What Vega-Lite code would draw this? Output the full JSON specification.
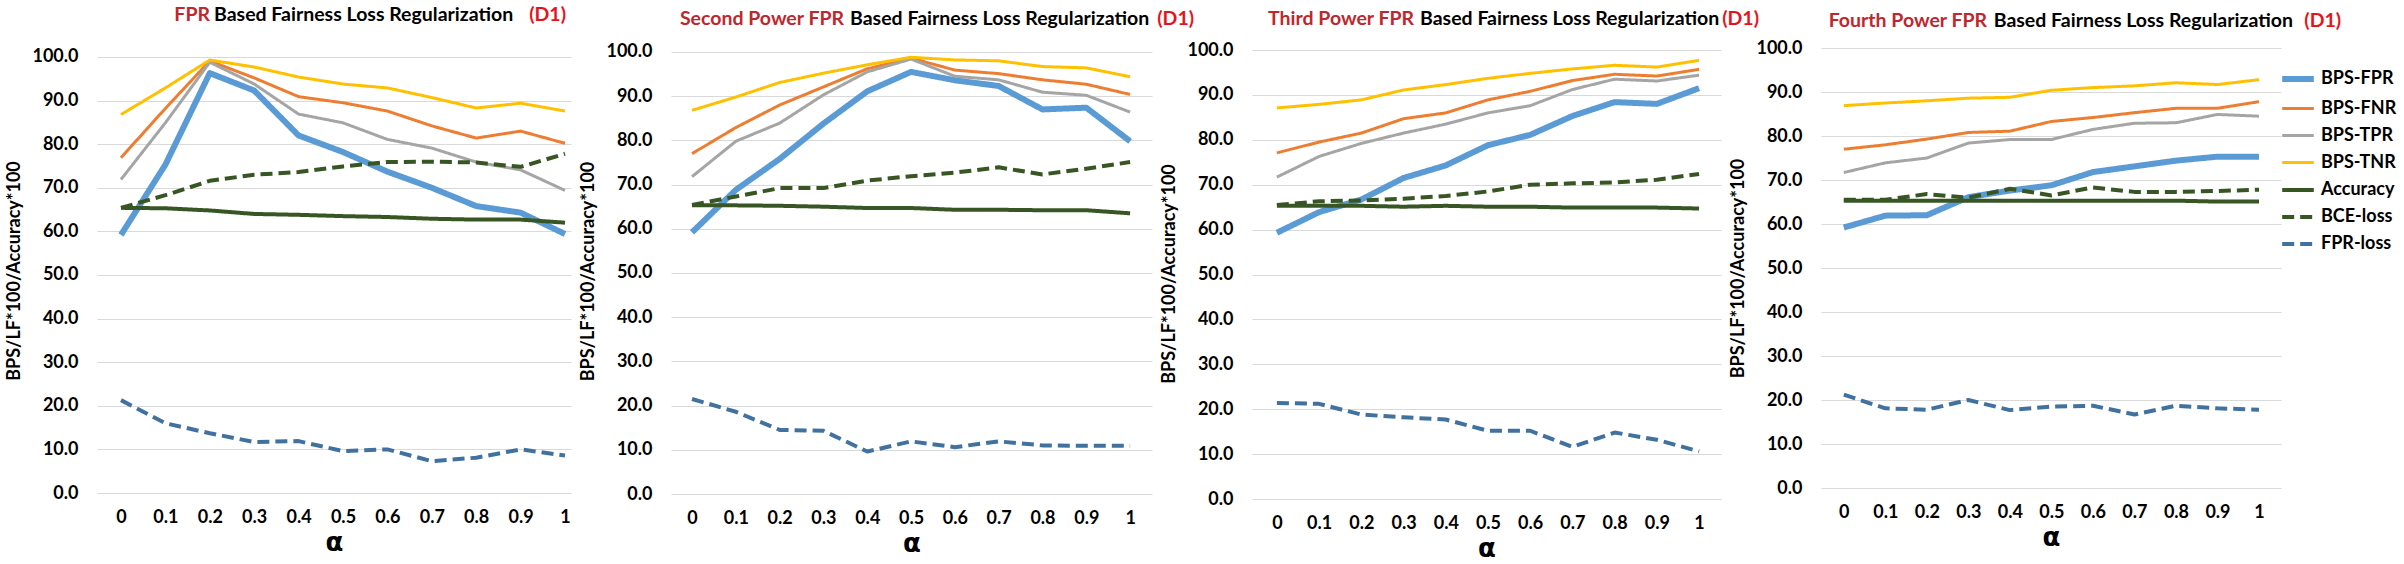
{
"$schema": "https://vega.github.io/schema/vega-lite/v6.json",
"background": "white",
"padding": {"left": 5, "top": 5, "right": 5, "bottom": 0},
"bounds": "flush",
"spacing": 100,
"datasets": {"d": [
{"p":1,"s":"BPS-FPR","a":0,"v":59.2},{"p":1,"s":"BPS-FPR","a":0.1,"v":75.3},{"p":1,"s":"BPS-FPR","a":0.2,"v":96.3},{"p":1,"s":"BPS-FPR","a":0.3,"v":92.3},{"p":1,"s":"BPS-FPR","a":0.4,"v":82.0},{"p":1,"s":"BPS-FPR","a":0.5,"v":78.2},{"p":1,"s":"BPS-FPR","a":0.6,"v":73.7},{"p":1,"s":"BPS-FPR","a":0.7,"v":70.0},{"p":1,"s":"BPS-FPR","a":0.8,"v":65.8},{"p":1,"s":"BPS-FPR","a":0.9,"v":64.3},{"p":1,"s":"BPS-FPR","a":1,"v":59.4},
{"p":1,"s":"BPS-FNR","a":0,"v":76.9},{"p":1,"s":"BPS-FNR","a":0.1,"v":88.2},{"p":1,"s":"BPS-FNR","a":0.2,"v":99.1},{"p":1,"s":"BPS-FNR","a":0.3,"v":95.2},{"p":1,"s":"BPS-FNR","a":0.4,"v":90.9},{"p":1,"s":"BPS-FNR","a":0.5,"v":89.5},{"p":1,"s":"BPS-FNR","a":0.6,"v":87.6},{"p":1,"s":"BPS-FNR","a":0.7,"v":84.2},{"p":1,"s":"BPS-FNR","a":0.8,"v":81.4},{"p":1,"s":"BPS-FNR","a":0.9,"v":83.0},{"p":1,"s":"BPS-FNR","a":1,"v":80.2},
{"p":1,"s":"BPS-TPR","a":0,"v":71.9},{"p":1,"s":"BPS-TPR","a":0.1,"v":84.9},{"p":1,"s":"BPS-TPR","a":0.2,"v":98.8},{"p":1,"s":"BPS-TPR","a":0.3,"v":93.8},{"p":1,"s":"BPS-TPR","a":0.4,"v":86.9},{"p":1,"s":"BPS-TPR","a":0.5,"v":84.9},{"p":1,"s":"BPS-TPR","a":0.6,"v":81.1},{"p":1,"s":"BPS-TPR","a":0.7,"v":79.1},{"p":1,"s":"BPS-TPR","a":0.8,"v":75.9},{"p":1,"s":"BPS-TPR","a":0.9,"v":74.1},{"p":1,"s":"BPS-TPR","a":1,"v":69.4},
{"p":1,"s":"BPS-TNR","a":0,"v":86.8},{"p":1,"s":"BPS-TNR","a":0.1,"v":92.9},{"p":1,"s":"BPS-TNR","a":0.2,"v":99.3},{"p":1,"s":"BPS-TNR","a":0.3,"v":97.7},{"p":1,"s":"BPS-TNR","a":0.4,"v":95.4},{"p":1,"s":"BPS-TNR","a":0.5,"v":93.8},{"p":1,"s":"BPS-TNR","a":0.6,"v":92.9},{"p":1,"s":"BPS-TNR","a":0.7,"v":90.7},{"p":1,"s":"BPS-TNR","a":0.8,"v":88.3},{"p":1,"s":"BPS-TNR","a":0.9,"v":89.4},{"p":1,"s":"BPS-TNR","a":1,"v":87.6},
{"p":1,"s":"Accuracy","a":0,"v":65.4},{"p":1,"s":"Accuracy","a":0.1,"v":65.3},{"p":1,"s":"Accuracy","a":0.2,"v":64.8},{"p":1,"s":"Accuracy","a":0.3,"v":64.0},{"p":1,"s":"Accuracy","a":0.4,"v":63.8},{"p":1,"s":"Accuracy","a":0.5,"v":63.5},{"p":1,"s":"Accuracy","a":0.6,"v":63.3},{"p":1,"s":"Accuracy","a":0.7,"v":62.9},{"p":1,"s":"Accuracy","a":0.8,"v":62.7},{"p":1,"s":"Accuracy","a":0.9,"v":62.7},{"p":1,"s":"Accuracy","a":1,"v":62.0},
{"p":1,"s":"BCE-loss","a":0,"v":65.4},{"p":1,"s":"BCE-loss","a":0.1,"v":68.3},{"p":1,"s":"BCE-loss","a":0.2,"v":71.6},{"p":1,"s":"BCE-loss","a":0.3,"v":73.0},{"p":1,"s":"BCE-loss","a":0.4,"v":73.6},{"p":1,"s":"BCE-loss","a":0.5,"v":74.9},{"p":1,"s":"BCE-loss","a":0.6,"v":75.9},{"p":1,"s":"BCE-loss","a":0.7,"v":76.0},{"p":1,"s":"BCE-loss","a":0.8,"v":75.8},{"p":1,"s":"BCE-loss","a":0.9,"v":74.8},{"p":1,"s":"BCE-loss","a":1,"v":77.8},
{"p":1,"s":"FPR-loss","a":0,"v":21.3},{"p":1,"s":"FPR-loss","a":0.1,"v":16.0},{"p":1,"s":"FPR-loss","a":0.2,"v":13.7},{"p":1,"s":"FPR-loss","a":0.3,"v":11.7},{"p":1,"s":"FPR-loss","a":0.4,"v":11.9},{"p":1,"s":"FPR-loss","a":0.5,"v":9.6},{"p":1,"s":"FPR-loss","a":0.6,"v":10.0},{"p":1,"s":"FPR-loss","a":0.7,"v":7.3},{"p":1,"s":"FPR-loss","a":0.8,"v":8.1},{"p":1,"s":"FPR-loss","a":0.9,"v":10.0},{"p":1,"s":"FPR-loss","a":1,"v":8.6},

{"p":2,"s":"BPS-FPR","a":0,"v":59.2},{"p":2,"s":"BPS-FPR","a":0.1,"v":68.8},{"p":2,"s":"BPS-FPR","a":0.2,"v":75.8},{"p":2,"s":"BPS-FPR","a":0.3,"v":83.8},{"p":2,"s":"BPS-FPR","a":0.4,"v":91.1},{"p":2,"s":"BPS-FPR","a":0.5,"v":95.5},{"p":2,"s":"BPS-FPR","a":0.6,"v":93.6},{"p":2,"s":"BPS-FPR","a":0.7,"v":92.3},{"p":2,"s":"BPS-FPR","a":0.8,"v":87.0},{"p":2,"s":"BPS-FPR","a":0.9,"v":87.4},{"p":2,"s":"BPS-FPR","a":1,"v":79.8},
{"p":2,"s":"BPS-FNR","a":0,"v":77.0},{"p":2,"s":"BPS-FNR","a":0.1,"v":82.9},{"p":2,"s":"BPS-FNR","a":0.2,"v":88.0},{"p":2,"s":"BPS-FNR","a":0.3,"v":92.1},{"p":2,"s":"BPS-FNR","a":0.4,"v":96.2},{"p":2,"s":"BPS-FNR","a":0.5,"v":98.6},{"p":2,"s":"BPS-FNR","a":0.6,"v":95.9},{"p":2,"s":"BPS-FNR","a":0.7,"v":95.1},{"p":2,"s":"BPS-FNR","a":0.8,"v":93.7},{"p":2,"s":"BPS-FNR","a":0.9,"v":92.7},{"p":2,"s":"BPS-FNR","a":1,"v":90.4},
{"p":2,"s":"BPS-TPR","a":0,"v":71.8},{"p":2,"s":"BPS-TPR","a":0.1,"v":79.8},{"p":2,"s":"BPS-TPR","a":0.2,"v":83.9},{"p":2,"s":"BPS-TPR","a":0.3,"v":90.3},{"p":2,"s":"BPS-TPR","a":0.4,"v":95.5},{"p":2,"s":"BPS-TPR","a":0.5,"v":98.4},{"p":2,"s":"BPS-TPR","a":0.6,"v":94.5},{"p":2,"s":"BPS-TPR","a":0.7,"v":93.7},{"p":2,"s":"BPS-TPR","a":0.8,"v":90.9},{"p":2,"s":"BPS-TPR","a":0.9,"v":90.2},{"p":2,"s":"BPS-TPR","a":1,"v":86.4},
{"p":2,"s":"BPS-TNR","a":0,"v":86.8},{"p":2,"s":"BPS-TNR","a":0.1,"v":89.8},{"p":2,"s":"BPS-TNR","a":0.2,"v":93.1},{"p":2,"s":"BPS-TNR","a":0.3,"v":95.2},{"p":2,"s":"BPS-TNR","a":0.4,"v":97.1},{"p":2,"s":"BPS-TNR","a":0.5,"v":98.8},{"p":2,"s":"BPS-TNR","a":0.6,"v":98.2},{"p":2,"s":"BPS-TNR","a":0.7,"v":98.0},{"p":2,"s":"BPS-TNR","a":0.8,"v":96.7},{"p":2,"s":"BPS-TNR","a":0.9,"v":96.4},{"p":2,"s":"BPS-TNR","a":1,"v":94.4},
{"p":2,"s":"Accuracy","a":0,"v":65.3},{"p":2,"s":"Accuracy","a":0.1,"v":65.3},{"p":2,"s":"Accuracy","a":0.2,"v":65.2},{"p":2,"s":"Accuracy","a":0.3,"v":65.0},{"p":2,"s":"Accuracy","a":0.4,"v":64.7},{"p":2,"s":"Accuracy","a":0.5,"v":64.7},{"p":2,"s":"Accuracy","a":0.6,"v":64.3},{"p":2,"s":"Accuracy","a":0.7,"v":64.3},{"p":2,"s":"Accuracy","a":0.8,"v":64.2},{"p":2,"s":"Accuracy","a":0.9,"v":64.2},{"p":2,"s":"Accuracy","a":1,"v":63.5},
{"p":2,"s":"BCE-loss","a":0,"v":65.4},{"p":2,"s":"BCE-loss","a":0.1,"v":67.3},{"p":2,"s":"BCE-loss","a":0.2,"v":69.2},{"p":2,"s":"BCE-loss","a":0.3,"v":69.2},{"p":2,"s":"BCE-loss","a":0.4,"v":70.9},{"p":2,"s":"BCE-loss","a":0.5,"v":71.9},{"p":2,"s":"BCE-loss","a":0.6,"v":72.7},{"p":2,"s":"BCE-loss","a":0.7,"v":73.9},{"p":2,"s":"BCE-loss","a":0.8,"v":72.3},{"p":2,"s":"BCE-loss","a":0.9,"v":73.6},{"p":2,"s":"BCE-loss","a":1,"v":75.1},
{"p":2,"s":"FPR-loss","a":0,"v":21.5},{"p":2,"s":"FPR-loss","a":0.1,"v":18.6},{"p":2,"s":"FPR-loss","a":0.2,"v":14.5},{"p":2,"s":"FPR-loss","a":0.3,"v":14.3},{"p":2,"s":"FPR-loss","a":0.4,"v":9.6},{"p":2,"s":"FPR-loss","a":0.5,"v":11.9},{"p":2,"s":"FPR-loss","a":0.6,"v":10.6},{"p":2,"s":"FPR-loss","a":0.7,"v":11.9},{"p":2,"s":"FPR-loss","a":0.8,"v":11.0},{"p":2,"s":"FPR-loss","a":0.9,"v":10.9},{"p":2,"s":"FPR-loss","a":1,"v":10.9},

{"p":3,"s":"BPS-FPR","a":0,"v":59.3},{"p":3,"s":"BPS-FPR","a":0.1,"v":63.9},{"p":3,"s":"BPS-FPR","a":0.2,"v":66.7},{"p":3,"s":"BPS-FPR","a":0.3,"v":71.5},{"p":3,"s":"BPS-FPR","a":0.4,"v":74.3},{"p":3,"s":"BPS-FPR","a":0.5,"v":78.8},{"p":3,"s":"BPS-FPR","a":0.6,"v":81.1},{"p":3,"s":"BPS-FPR","a":0.7,"v":85.3},{"p":3,"s":"BPS-FPR","a":0.8,"v":88.4},{"p":3,"s":"BPS-FPR","a":0.9,"v":88.0},{"p":3,"s":"BPS-FPR","a":1,"v":91.5},
{"p":3,"s":"BPS-FNR","a":0,"v":77.1},{"p":3,"s":"BPS-FNR","a":0.1,"v":79.5},{"p":3,"s":"BPS-FNR","a":0.2,"v":81.5},{"p":3,"s":"BPS-FNR","a":0.3,"v":84.7},{"p":3,"s":"BPS-FNR","a":0.4,"v":86.0},{"p":3,"s":"BPS-FNR","a":0.5,"v":88.9},{"p":3,"s":"BPS-FNR","a":0.6,"v":90.8},{"p":3,"s":"BPS-FNR","a":0.7,"v":93.2},{"p":3,"s":"BPS-FNR","a":0.8,"v":94.6},{"p":3,"s":"BPS-FNR","a":0.9,"v":94.2},{"p":3,"s":"BPS-FNR","a":1,"v":95.7},
{"p":3,"s":"BPS-TPR","a":0,"v":71.7},{"p":3,"s":"BPS-TPR","a":0.1,"v":76.3},{"p":3,"s":"BPS-TPR","a":0.2,"v":79.2},{"p":3,"s":"BPS-TPR","a":0.3,"v":81.5},{"p":3,"s":"BPS-TPR","a":0.4,"v":83.5},{"p":3,"s":"BPS-TPR","a":0.5,"v":86.0},{"p":3,"s":"BPS-TPR","a":0.6,"v":87.6},{"p":3,"s":"BPS-TPR","a":0.7,"v":91.2},{"p":3,"s":"BPS-TPR","a":0.8,"v":93.5},{"p":3,"s":"BPS-TPR","a":0.9,"v":93.1},{"p":3,"s":"BPS-TPR","a":1,"v":94.4},
{"p":3,"s":"BPS-TNR","a":0,"v":87.1},{"p":3,"s":"BPS-TNR","a":0.1,"v":87.9},{"p":3,"s":"BPS-TNR","a":0.2,"v":88.9},{"p":3,"s":"BPS-TNR","a":0.3,"v":91.1},{"p":3,"s":"BPS-TNR","a":0.4,"v":92.3},{"p":3,"s":"BPS-TNR","a":0.5,"v":93.7},{"p":3,"s":"BPS-TNR","a":0.6,"v":94.8},{"p":3,"s":"BPS-TNR","a":0.7,"v":95.8},{"p":3,"s":"BPS-TNR","a":0.8,"v":96.6},{"p":3,"s":"BPS-TNR","a":0.9,"v":96.2},{"p":3,"s":"BPS-TNR","a":1,"v":97.7},
{"p":3,"s":"Accuracy","a":0,"v":65.3},{"p":3,"s":"Accuracy","a":0.1,"v":65.3},{"p":3,"s":"Accuracy","a":0.2,"v":65.3},{"p":3,"s":"Accuracy","a":0.3,"v":65.1},{"p":3,"s":"Accuracy","a":0.4,"v":65.3},{"p":3,"s":"Accuracy","a":0.5,"v":65.1},{"p":3,"s":"Accuracy","a":0.6,"v":65.1},{"p":3,"s":"Accuracy","a":0.7,"v":64.9},{"p":3,"s":"Accuracy","a":0.8,"v":64.9},{"p":3,"s":"Accuracy","a":0.9,"v":64.9},{"p":3,"s":"Accuracy","a":1,"v":64.7},
{"p":3,"s":"BCE-loss","a":0,"v":65.5},{"p":3,"s":"BCE-loss","a":0.1,"v":66.3},{"p":3,"s":"BCE-loss","a":0.2,"v":66.5},{"p":3,"s":"BCE-loss","a":0.3,"v":66.9},{"p":3,"s":"BCE-loss","a":0.4,"v":67.5},{"p":3,"s":"BCE-loss","a":0.5,"v":68.5},{"p":3,"s":"BCE-loss","a":0.6,"v":70.0},{"p":3,"s":"BCE-loss","a":0.7,"v":70.3},{"p":3,"s":"BCE-loss","a":0.8,"v":70.5},{"p":3,"s":"BCE-loss","a":0.9,"v":71.1},{"p":3,"s":"BCE-loss","a":1,"v":72.4},
{"p":3,"s":"FPR-loss","a":0,"v":21.4},{"p":3,"s":"FPR-loss","a":0.1,"v":21.2},{"p":3,"s":"FPR-loss","a":0.2,"v":18.8},{"p":3,"s":"FPR-loss","a":0.3,"v":18.2},{"p":3,"s":"FPR-loss","a":0.4,"v":17.7},{"p":3,"s":"FPR-loss","a":0.5,"v":15.2},{"p":3,"s":"FPR-loss","a":0.6,"v":15.2},{"p":3,"s":"FPR-loss","a":0.7,"v":11.6},{"p":3,"s":"FPR-loss","a":0.8,"v":14.8},{"p":3,"s":"FPR-loss","a":0.9,"v":13.2},{"p":3,"s":"FPR-loss","a":1,"v":10.6},

{"p":4,"s":"BPS-FPR","a":0,"v":59.2},{"p":4,"s":"BPS-FPR","a":0.1,"v":61.9},{"p":4,"s":"BPS-FPR","a":0.2,"v":62.0},{"p":4,"s":"BPS-FPR","a":0.3,"v":66.1},{"p":4,"s":"BPS-FPR","a":0.4,"v":67.6},{"p":4,"s":"BPS-FPR","a":0.5,"v":68.8},{"p":4,"s":"BPS-FPR","a":0.6,"v":71.8},{"p":4,"s":"BPS-FPR","a":0.7,"v":73.1},{"p":4,"s":"BPS-FPR","a":0.8,"v":74.4},{"p":4,"s":"BPS-FPR","a":0.9,"v":75.3},{"p":4,"s":"BPS-FPR","a":1,"v":75.3},
{"p":4,"s":"BPS-FNR","a":0,"v":77.0},{"p":4,"s":"BPS-FNR","a":0.1,"v":78.0},{"p":4,"s":"BPS-FNR","a":0.2,"v":79.3},{"p":4,"s":"BPS-FNR","a":0.3,"v":80.8},{"p":4,"s":"BPS-FNR","a":0.4,"v":81.1},{"p":4,"s":"BPS-FNR","a":0.5,"v":83.3},{"p":4,"s":"BPS-FNR","a":0.6,"v":84.2},{"p":4,"s":"BPS-FNR","a":0.7,"v":85.3},{"p":4,"s":"BPS-FNR","a":0.8,"v":86.3},{"p":4,"s":"BPS-FNR","a":0.9,"v":86.3},{"p":4,"s":"BPS-FNR","a":1,"v":87.8},
{"p":4,"s":"BPS-TPR","a":0,"v":71.7},{"p":4,"s":"BPS-TPR","a":0.1,"v":73.9},{"p":4,"s":"BPS-TPR","a":0.2,"v":75.0},{"p":4,"s":"BPS-TPR","a":0.3,"v":78.4},{"p":4,"s":"BPS-TPR","a":0.4,"v":79.2},{"p":4,"s":"BPS-TPR","a":0.5,"v":79.2},{"p":4,"s":"BPS-TPR","a":0.6,"v":81.5},{"p":4,"s":"BPS-TPR","a":0.7,"v":82.9},{"p":4,"s":"BPS-TPR","a":0.8,"v":83.0},{"p":4,"s":"BPS-TPR","a":0.9,"v":84.9},{"p":4,"s":"BPS-TPR","a":1,"v":84.5},
{"p":4,"s":"BPS-TNR","a":0,"v":86.9},{"p":4,"s":"BPS-TNR","a":0.1,"v":87.5},{"p":4,"s":"BPS-TNR","a":0.2,"v":88.0},{"p":4,"s":"BPS-TNR","a":0.3,"v":88.6},{"p":4,"s":"BPS-TNR","a":0.4,"v":88.8},{"p":4,"s":"BPS-TNR","a":0.5,"v":90.4},{"p":4,"s":"BPS-TNR","a":0.6,"v":91.0},{"p":4,"s":"BPS-TNR","a":0.7,"v":91.4},{"p":4,"s":"BPS-TNR","a":0.8,"v":92.1},{"p":4,"s":"BPS-TNR","a":0.9,"v":91.7},{"p":4,"s":"BPS-TNR","a":1,"v":92.8},
{"p":4,"s":"Accuracy","a":0,"v":65.3},{"p":4,"s":"Accuracy","a":0.1,"v":65.3},{"p":4,"s":"Accuracy","a":0.2,"v":65.3},{"p":4,"s":"Accuracy","a":0.3,"v":65.3},{"p":4,"s":"Accuracy","a":0.4,"v":65.3},{"p":4,"s":"Accuracy","a":0.5,"v":65.3},{"p":4,"s":"Accuracy","a":0.6,"v":65.3},{"p":4,"s":"Accuracy","a":0.7,"v":65.3},{"p":4,"s":"Accuracy","a":0.8,"v":65.3},{"p":4,"s":"Accuracy","a":0.9,"v":65.1},{"p":4,"s":"Accuracy","a":1,"v":65.1},
{"p":4,"s":"BCE-loss","a":0,"v":65.5},{"p":4,"s":"BCE-loss","a":0.1,"v":65.5},{"p":4,"s":"BCE-loss","a":0.2,"v":66.8},{"p":4,"s":"BCE-loss","a":0.3,"v":66.0},{"p":4,"s":"BCE-loss","a":0.4,"v":68.0},{"p":4,"s":"BCE-loss","a":0.5,"v":66.5},{"p":4,"s":"BCE-loss","a":0.6,"v":68.3},{"p":4,"s":"BCE-loss","a":0.7,"v":67.3},{"p":4,"s":"BCE-loss","a":0.8,"v":67.3},{"p":4,"s":"BCE-loss","a":0.9,"v":67.5},{"p":4,"s":"BCE-loss","a":1,"v":67.8},
{"p":4,"s":"FPR-loss","a":0,"v":21.2},{"p":4,"s":"FPR-loss","a":0.1,"v":18.1},{"p":4,"s":"FPR-loss","a":0.2,"v":17.8},{"p":4,"s":"FPR-loss","a":0.3,"v":20.0},{"p":4,"s":"FPR-loss","a":0.4,"v":17.7},{"p":4,"s":"FPR-loss","a":0.5,"v":18.5},{"p":4,"s":"FPR-loss","a":0.6,"v":18.7},{"p":4,"s":"FPR-loss","a":0.7,"v":16.7},{"p":4,"s":"FPR-loss","a":0.8,"v":18.7},{"p":4,"s":"FPR-loss","a":0.9,"v":18.1},{"p":4,"s":"FPR-loss","a":1,"v":17.8}
]},
"hconcat": [
{"width": 474, "height": 445, "layer": [
 {"data": {"name": "d"}, "transform": [{"filter": "datum.p == 1"}],
  "mark": {"type": "line", "strokeJoin": "round", "strokeCap": "butt"},
  "encoding": {
   "x": {"field": "a", "type": "quantitative", "scale": {"domain": [-0.054, 1.0135], "nice": false, "zero": false}, "axis": {"title": "α", "values": [0,0.1,0.2,0.3,0.4,0.5,0.6,0.7,0.8,0.9,1], "format": "~g"}},
   "y": {"field": "v", "type": "quantitative", "scale": {"domain": [0, 102.06], "nice": false}, "axis": {"title": "BPS/LF*100/Accuracy*100", "values": [0,10,20,30,40,50,60,70,80,90,100], "format": ".1f"}},
   "color": {"field": "s", "type": "nominal", "scale": {"domain": ["BPS-FPR","BPS-FNR","BPS-TPR","BPS-TNR","Accuracy","BCE-loss","FPR-loss"], "range": ["#5B9BD5","#ED7D31","#A5A5A5","#FFC000","#375623","#375623","#41729F"]}, "legend": {"orient": "none", "legendX": 2182, "legendY": 12, "title": null}},
   "strokeDash": {"field": "s", "type": "nominal", "scale": {"domain": ["BPS-FPR","BPS-FNR","BPS-TPR","BPS-TNR","Accuracy","BCE-loss","FPR-loss"], "range": [[1,0],[1,0],[1,0],[1,0],[1,0],[12,6],[12,6]]}, "legend": {"orient": "none", "legendX": 2182, "legendY": 12, "title": null}},
   "strokeWidth": {"field": "s", "type": "nominal", "scale": {"type": "ordinal", "domain": ["BPS-FPR","BPS-FNR","BPS-TPR","BPS-TNR","Accuracy","BCE-loss","FPR-loss"], "range": [6,3,3,3,4,4,4]}, "legend": {"orient": "none", "legendX": 2182, "legendY": 12, "title": null}}
  }},
 {"data": {"values": [{}]}, "mark": {"type": "text", "text": "FPR", "align": "right", "baseline": "middle", "font": "Lato", "fontWeight": "bold", "fontSize": 19.5, "color": "#C0272D"}, "encoding": {"x": {"datum": 0.2005}, "y": {"datum": 109.6}}},
 {"data": {"values": [{}]}, "mark": {"type": "text", "text": "Based Fairness Loss Regularization", "align": "left", "baseline": "middle", "font": "Lato", "fontWeight": "bold", "fontSize": 19.5, "color": "#000000"}, "encoding": {"x": {"datum": 0.2095}, "y": {"datum": 109.6}}},
 {"data": {"values": [{}]}, "mark": {"type": "text", "text": "(D1)", "align": "right", "baseline": "middle", "font": "Lato", "fontWeight": "bold", "fontSize": 19.5, "color": "#E8131A"}, "encoding": {"x": {"datum": 1.0023}, "y": {"datum": 109.6}}}
]},
{"width": 481, "height": 446, "layer": [
 {"data": {"name": "d"}, "transform": [{"filter": "datum.p == 2"}],
  "mark": {"type": "line", "strokeJoin": "round", "strokeCap": "butt"},
  "encoding": {
   "x": {"field": "a", "type": "quantitative", "scale": {"domain": [-0.048, 1.050], "nice": false, "zero": false}, "axis": {"title": "α", "values": [0,0.1,0.2,0.3,0.4,0.5,0.6,0.7,0.8,0.9,1], "format": "~g"}},
   "y": {"field": "v", "type": "quantitative", "scale": {"domain": [0, 100.9], "nice": false}, "axis": {"title": "BPS/LF*100/Accuracy*100", "values": [0,10,20,30,40,50,60,70,80,90,100], "format": ".1f"}},
   "color": {"field": "s", "type": "nominal", "scale": {"domain": ["BPS-FPR","BPS-FNR","BPS-TPR","BPS-TNR","Accuracy","BCE-loss","FPR-loss"], "range": ["#5B9BD5","#ED7D31","#A5A5A5","#FFC000","#375623","#375623","#41729F"]}, "legend": {"orient": "none", "legendX": 2182, "legendY": 12, "title": null}},
   "strokeDash": {"field": "s", "type": "nominal", "scale": {"domain": ["BPS-FPR","BPS-FNR","BPS-TPR","BPS-TNR","Accuracy","BCE-loss","FPR-loss"], "range": [[1,0],[1,0],[1,0],[1,0],[1,0],[12,6],[12,6]]}, "legend": {"orient": "none", "legendX": 2182, "legendY": 12, "title": null}},
   "strokeWidth": {"field": "s", "type": "nominal", "scale": {"type": "ordinal", "domain": ["BPS-FPR","BPS-FNR","BPS-TPR","BPS-TNR","Accuracy","BCE-loss","FPR-loss"], "range": [6,3,3,3,4,4,4]}, "legend": {"orient": "none", "legendX": 2182, "legendY": 12, "title": null}}
  }},
 {"data": {"values": [{}]}, "mark": {"type": "text", "text": "Second Power FPR", "align": "right", "baseline": "middle", "font": "Lato", "fontWeight": "bold", "fontSize": 19.5, "color": "#C0272D"}, "encoding": {"x": {"datum": 0.347}, "y": {"datum": 107.5}}},
 {"data": {"values": [{}]}, "mark": {"type": "text", "text": "Based Fairness Loss Regularization", "align": "left", "baseline": "middle", "font": "Lato", "fontWeight": "bold", "fontSize": 19.5, "color": "#000000"}, "encoding": {"x": {"datum": 0.3607}, "y": {"datum": 107.5}}},
 {"data": {"values": [{}]}, "mark": {"type": "text", "text": "(D1)", "align": "right", "baseline": "middle", "font": "Lato", "fontWeight": "bold", "fontSize": 19.5, "color": "#E8131A"}, "encoding": {"x": {"datum": 1.146}, "y": {"datum": 107.5}}}
]},
{"width": 469, "height": 451, "layer": [
 {"data": {"name": "d"}, "transform": [{"filter": "datum.p == 3"}],
  "mark": {"type": "line", "strokeJoin": "round", "strokeCap": "butt"},
  "encoding": {
   "x": {"field": "a", "type": "quantitative", "scale": {"domain": [-0.059, 1.052], "nice": false, "zero": false}, "axis": {"title": "α", "values": [0,0.1,0.2,0.3,0.4,0.5,0.6,0.7,0.8,0.9,1], "format": "~g"}},
   "y": {"field": "v", "type": "quantitative", "scale": {"domain": [0, 100.45], "nice": false}, "axis": {"title": "BPS/LF*100/Accuracy*100", "values": [0,10,20,30,40,50,60,70,80,90,100], "format": ".1f"}},
   "color": {"field": "s", "type": "nominal", "scale": {"domain": ["BPS-FPR","BPS-FNR","BPS-TPR","BPS-TNR","Accuracy","BCE-loss","FPR-loss"], "range": ["#5B9BD5","#ED7D31","#A5A5A5","#FFC000","#375623","#375623","#41729F"]}, "legend": {"orient": "none", "legendX": 2182, "legendY": 12, "title": null}},
   "strokeDash": {"field": "s", "type": "nominal", "scale": {"domain": ["BPS-FPR","BPS-FNR","BPS-TPR","BPS-TNR","Accuracy","BCE-loss","FPR-loss"], "range": [[1,0],[1,0],[1,0],[1,0],[1,0],[12,6],[12,6]]}, "legend": {"orient": "none", "legendX": 2182, "legendY": 12, "title": null}},
   "strokeWidth": {"field": "s", "type": "nominal", "scale": {"type": "ordinal", "domain": ["BPS-FPR","BPS-FNR","BPS-TPR","BPS-TNR","Accuracy","BCE-loss","FPR-loss"], "range": [6,3,3,3,4,4,4]}, "legend": {"orient": "none", "legendX": 2182, "legendY": 12, "title": null}}
  }},
 {"data": {"values": [{}]}, "mark": {"type": "text", "text": "Third Power FPR", "align": "right", "baseline": "middle", "font": "Lato", "fontWeight": "bold", "fontSize": 19.5, "color": "#C0272D"}, "encoding": {"x": {"datum": 0.325}, "y": {"datum": 106.9}}},
 {"data": {"values": [{}]}, "mark": {"type": "text", "text": "Based Fairness Loss Regularization", "align": "left", "baseline": "middle", "font": "Lato", "fontWeight": "bold", "fontSize": 19.5, "color": "#000000"}, "encoding": {"x": {"datum": 0.339}, "y": {"datum": 106.9}}},
 {"data": {"values": [{}]}, "mark": {"type": "text", "text": "(D1)", "align": "right", "baseline": "middle", "font": "Lato", "fontWeight": "bold", "fontSize": 19.5, "color": "#E8131A"}, "encoding": {"x": {"datum": 1.142}, "y": {"datum": 106.9}}}
]},
{"width": 460, "height": 440, "layer": [
 {"data": {"name": "d"}, "transform": [{"filter": "datum.p == 4"}],
  "mark": {"type": "line", "strokeJoin": "round", "strokeCap": "butt"},
  "encoding": {
   "x": {"field": "a", "type": "quantitative", "scale": {"domain": [-0.055, 1.053], "nice": false, "zero": false}, "axis": {"title": "α", "values": [0,0.1,0.2,0.3,0.4,0.5,0.6,0.7,0.8,0.9,1], "format": "~g"}},
   "y": {"field": "v", "type": "quantitative", "scale": {"domain": [0, 100], "nice": false}, "axis": {"title": "BPS/LF*100/Accuracy*100", "values": [0,10,20,30,40,50,60,70,80,90,100], "format": ".1f"}},
   "color": {"field": "s", "type": "nominal", "scale": {"domain": ["BPS-FPR","BPS-FNR","BPS-TPR","BPS-TNR","Accuracy","BCE-loss","FPR-loss"], "range": ["#5B9BD5","#ED7D31","#A5A5A5","#FFC000","#375623","#375623","#41729F"]}, "legend": {"orient": "none", "legendX": 2182, "legendY": 12, "title": null}},
   "strokeDash": {"field": "s", "type": "nominal", "scale": {"domain": ["BPS-FPR","BPS-FNR","BPS-TPR","BPS-TNR","Accuracy","BCE-loss","FPR-loss"], "range": [[1,0],[1,0],[1,0],[1,0],[1,0],[12,6],[12,6]]}, "legend": {"orient": "none", "legendX": 2182, "legendY": 12, "title": null}},
   "strokeWidth": {"field": "s", "type": "nominal", "scale": {"type": "ordinal", "domain": ["BPS-FPR","BPS-FNR","BPS-TPR","BPS-TNR","Accuracy","BCE-loss","FPR-loss"], "range": [6,3,3,3,4,4,4]}, "legend": {"orient": "none", "legendX": 2182, "legendY": 12, "title": null}}
  }},
 {"data": {"values": [{}]}, "mark": {"type": "text", "text": "Fourth Power FPR", "align": "right", "baseline": "middle", "font": "Lato", "fontWeight": "bold", "fontSize": 19.5, "color": "#C0272D"}, "encoding": {"x": {"datum": 0.345}, "y": {"datum": 106.1}}},
 {"data": {"values": [{}]}, "mark": {"type": "text", "text": "Based Fairness Loss Regularization", "align": "left", "baseline": "middle", "font": "Lato", "fontWeight": "bold", "fontSize": 19.5, "color": "#000000"}, "encoding": {"x": {"datum": 0.361}, "y": {"datum": 106.1}}},
 {"data": {"values": [{}]}, "mark": {"type": "text", "text": "(D1)", "align": "right", "baseline": "middle", "font": "Lato", "fontWeight": "bold", "fontSize": 19.5, "color": "#E8131A"}, "encoding": {"x": {"datum": 1.198}, "y": {"datum": 106.1}}}
]}
],
"resolve": {"scale": {"x": "independent", "y": "independent", "color": "shared", "strokeDash": "shared", "strokeWidth": "shared"}},
"config": {
 "view": {"stroke": null},
 "font": "Lato",
 "axis": {"labelFont": "Lato", "labelFontWeight": "bold", "labelColor": "#000000", "titleFont": "Lato", "titleFontWeight": "bold", "titleColor": "#000000", "domain": false, "ticks": false},
 "axisY": {"grid": true, "gridColor": "#D9D9D9", "gridWidth": 1, "labelFontSize": 18, "labelPadding": 19, "titleFontSize": 18, "titlePadding": 8},
 "axisX": {"grid": false, "labelFontSize": 18, "labelPadding": 15, "titleFont": "DejaVu Sans", "titleFontSize": 26, "titleBaseline": "middle", "titlePadding": 16},
 "legend": {"symbolType": "stroke", "symbolSize": 1000, "labelFont": "Lato", "labelFontWeight": "bold", "labelFontSize": 18, "labelColor": "#000000", "rowPadding": 0, "labelOffset": 4}
}
}
